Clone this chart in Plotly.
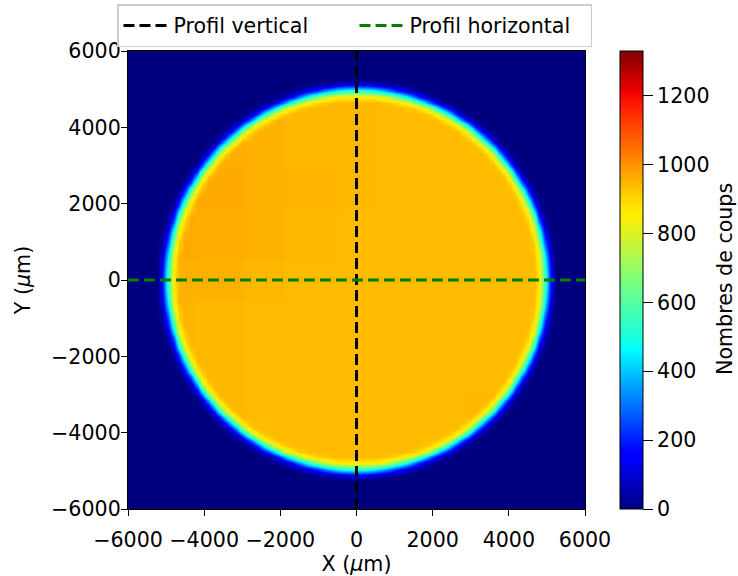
import numpy as np
import plotly.graph_objects as go

W, H = 738, 576
# Axis grid of the count map (um), one cell every 150 um
x_um = [-6000 + 150 * k for k in range(81)]
y_um = [-6000 + 150 * k for k in range(81)]

# Disc outline, per row |y| = 0, 150, 300 ... 5100 um:
# how many cells from the centre stay in the plateau, then counts on the rim going outwards
plateau_cells = [31, 31, 31, 31, 31, 30, 30, 30, 30, 29, 29, 29, 28, 28, 28, 27, 26, 26, 25,
                 24, 24, 23, 22, 21, 20, 18, 17, 15, 14, 11, 8, 4, -1, -1, -1]
rim_counts = [
    [870, 550, 155],
    [868, 543, 151],
    [860, 523, 138],
    [849, 489, 118],
    [832, 441, 89],
    [925, 795, 380, 57],
    [922, 728, 305, 43],
    [903, 648, 229, 26],
    [868, 556, 167, 6],
    [925, 827, 441, 97],
    [921, 722, 311, 47],
    [877, 593, 200, 20],
    [925, 822, 441, 105],
    [903, 673, 270, 42],
    [839, 502, 151, 6],
    [906, 691, 305, 51],
    [925, 832, 495, 155, 10],
    [884, 648, 270, 47],
    [921, 771, 420, 118],
    [925, 839, 543, 200, 30],
    [868, 630, 277, 54],
    [887, 691, 359, 97],
    [896, 728, 414, 138, 16],
    [896, 740, 441, 163, 26],
    [887, 728, 441, 172, 31],
    [925, 868, 691, 414, 163, 31],
    [921, 839, 630, 359, 138, 26],
    [925, 884, 771, 543, 277, 97, 16],
    [906, 832, 648, 420, 200, 54],
    [925, 903, 839, 691, 495, 270, 118, 30],
    [925, 921, 877, 822, 673, 502, 305, 155, 47],
    [925, 922, 903, 868, 827, 722, 593, 441, 270, 151, 51, 10],
    [870, 868, 860, 849, 832, 795, 728, 648, 556, 441, 311, 200, 105, 42, 6],
    [550, 543, 523, 489, 441, 380, 305, 229, 167, 97, 47, 20],
    [155, 151, 138, 118, 89, 57, 43, 26, 6],
]
# Plateau level per 1200 um block, top row first, left column first
plateau_blocks = [
    [945, 945, 945, 945, 945, 945, 945, 945, 945, 945, 945],
    [950, 950, 955, 950, 945, 945, 940, 940, 940, 940, 940],
    [955, 960, 960, 955, 945, 945, 940, 940, 940, 940, 940],
    [960, 970, 965, 955, 950, 945, 940, 940, 940, 940, 940],
    [960, 965, 960, 955, 945, 940, 940, 940, 940, 940, 940],
    [955, 955, 955, 945, 940, 940, 940, 940, 940, 940, 940],
    [950, 950, 945, 940, 940, 940, 940, 940, 940, 940, 940],
    [945, 945, 945, 940, 940, 940, 940, 940, 940, 940, 940],
    [945, 950, 945, 940, 940, 940, 940, 940, 945, 945, 945],
    [950, 950, 950, 945, 940, 940, 940, 945, 945, 945, 945],
    [950, 950, 950, 950, 945, 945, 945, 945, 945, 945, 945],
]

# Profile lines
vert_x = [0, 0]
vert_y = [-6000, 6000]
horiz_x = [-6000, 6000]
horiz_y = [0, 0]

axis_ticks = [-6000, -4000, -2000, 0, 2000, 4000, 6000]
cbar_ticks = [0, 200, 400, 600, 800, 1000, 1200]

jet = [[0.0, "#00007f"], [0.11, "#0000ff"], [0.125, "#0000ff"], [0.35, "#00ffff"],
       [0.375, "#19ffdd"], [0.5, "#7dff7a"], [0.64, "#ffee00"], [0.66, "#ffe600"],
       [0.89, "#ff1300"], [0.91, "#f00000"], [1.0, "#7f0000"]]

z = np.zeros((81, 81))
for r, yv in enumerate(y_um):
    j = abs(r - 40)
    if j >= len(plateau_cells):
        continue
    for c, xv in enumerate(x_um):
        i = abs(c - 40)
        if i <= plateau_cells[j]:
            z[r, c] = plateau_blocks[round((80 - r) / 8)][round(c / 8)]
        elif i - plateau_cells[j] - 1 < len(rim_counts[j]):
            z[r, c] = rim_counts[j][i - plateau_cells[j] - 1]

font = dict(family="DejaVu Sans", size=20.6, color="#000000")

fig = go.Figure()
fig.add_trace(go.Heatmap(
    x=x_um, y=y_um, z=z, zmin=0, zmax=1330, zsmooth="best", colorscale=jet, showlegend=False,
    colorbar=dict(
        x=620 / W, xanchor="left", xpad=0, y=(H - 280) / H, yanchor="middle", ypad=0,
        len=458 / H, lenmode="fraction",
        thickness=23, thicknessmode="pixels", outlinewidth=1, outlinecolor="#000000",
        ticks="outside", ticklen=10, tickwidth=1, tickcolor="#000000", tickvals=cbar_ticks,
        tickfont=font,
    ),
))
fig.add_trace(go.Scatter(x=vert_x, y=vert_y, mode="lines", name="Profil vertical",
                         line=dict(color="#000000", width=3, dash="11px,5px")))
fig.add_trace(go.Scatter(x=horiz_x, y=horiz_y, mode="lines", name="Profil horizontal",
                         line=dict(color="#008000", width=3, dash="11px,5px")))

axis = dict(tickvals=axis_ticks, ticks="outside", ticklen=6, tickwidth=1, tickcolor="#000000",
            showline=True, mirror=True, linecolor="#000000", linewidth=1.2, showgrid=False,
            zeroline=False, tickfont=font, range=[-6000, 6000], automargin=False)
fig.update_layout(
    width=W, height=H, autosize=False, paper_bgcolor="#ffffff", plot_bgcolor="#00007f",
    margin=dict(l=0, r=0, t=0, b=0), font=font,
    xaxis=dict(axis, domain=[128 / W, 585 / W], ticklabelstandoff=6,
               title=dict(text="X (<i>µ</i>m)", font=font, standoff=2)),
    yaxis=dict(axis, domain=[(H - 509) / H, (H - 51) / H], ticklabelstandoff=-4,
               title=dict(text="Y (<i>µ</i>m)", font=font, standoff=14)),
    legend=dict(orientation="h", x=117 / W, xanchor="left", y=(H - 4) / H, yanchor="top",
                bordercolor="#cccccc", borderwidth=1.5, bgcolor="#ffffff", font=font,
                itemwidth=45, entrywidth=176, entrywidthmode="pixels"),
    annotations=[dict(text="Nombres de coups", xref="paper", yref="paper", x=725 / W, y=(H - 279) / H,
                      xanchor="center", yanchor="middle", textangle=-90, showarrow=False, font=font)],
)
fig.write_html("out.html", post_script="document.body.style.margin='0';", config={"displayModeBar": False})
